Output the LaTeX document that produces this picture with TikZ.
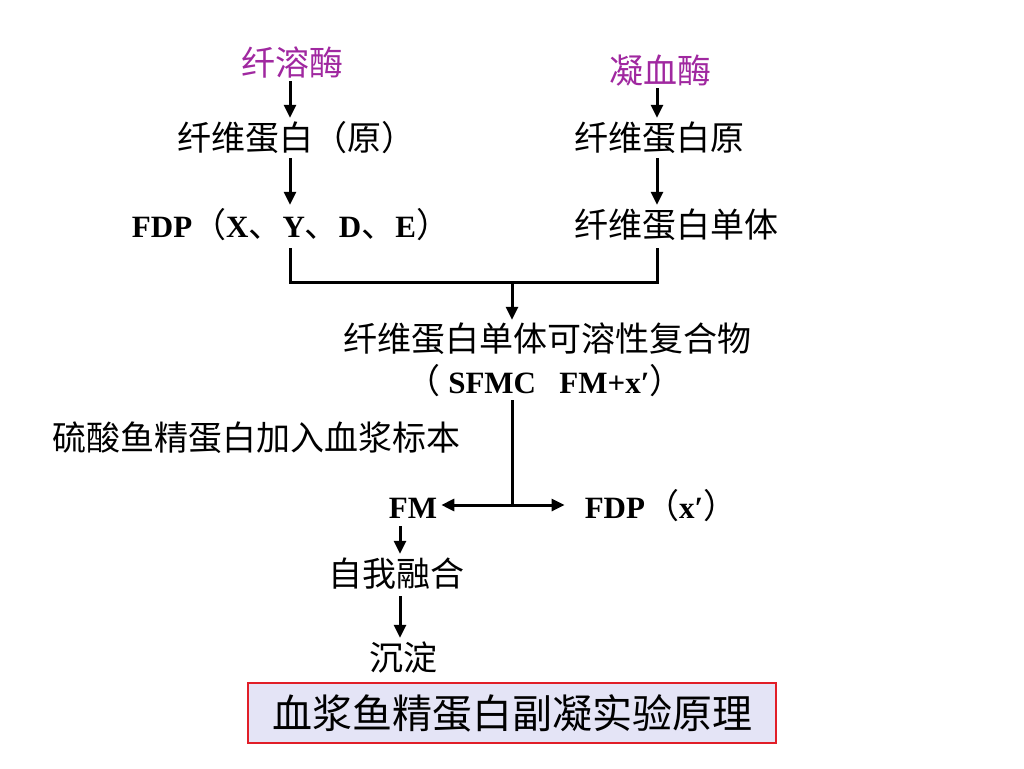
\documentclass[tikz,border=0pt]{standalone}
\usepackage{fontspec}
\setmainfont{Liberation Serif}
\newfontfamily\cjk{Noto Sans CJK SC}
\usetikzlibrary{arrows.meta}
\definecolor{enz}{RGB}{160,40,160}
\definecolor{boxfill}{RGB}{228,228,246}
\definecolor{boxline}{RGB}{225,30,40}
\newcommand\lat[1]{{\normalfont\fontsize{31}{35}\selectfont\bfseries #1}}
\tikzset{
  lbl/.style={inner sep=0pt, text height=30pt, text depth=4pt, font=\fontsize{34}{40}\selectfont\cjk},
  enzyme/.style={lbl, text=enz},
  arr/.style={line width=3pt, -{Triangle[length=13pt,width=12pt]}},
  ln/.style={line width=3pt},
  titlebox/.style={draw=boxline, line width=2pt, fill=boxfill, minimum width=528pt, minimum height=60pt, inner sep=0pt, font=\fontsize{40}{46}\selectfont\cjk}
}
\begin{document}
\begin{tikzpicture}[x=1pt,y=-1pt]
\useasboundingbox (0,0) rectangle (1024,768);
\fill[white] (0,0) rectangle (1024,768);
% columns
\coordinate (cl) at (290,0);
\coordinate (cr) at (657,0);
\coordinate (cm) at (512,0);
\coordinate (cf) at (400,0);
% nodes
\node[enzyme] (plasmin) at (292,62) {纤溶酶};
\node[enzyme] (thrombin) at (660,70) {凝血酶};
\node[lbl] (fib) at (296,137) {纤维蛋白（原）};
\node[lbl] (fibr) at (659,137) {纤维蛋白原};
\node[lbl] (fdp) at (291,224) {\lat{FDP}（\lat{X}、\lat{Y}、\lat{D}、\lat{E}）};
\node[lbl] (mono) at (676,224) {纤维蛋白单体};
\node[lbl] (sfmc) at (547,338) {纤维蛋白单体可溶性复合物};
\node[lbl] (sfmc2) at (545,380) {（\lat{ SFMC\ \ \ FM+x′}）};
\node[lbl] (prot) at (256,437) {硫酸鱼精蛋白加入血浆标本};
\node[lbl] (fm) at (413,505) {\lat{FM}};
\node[lbl] (fdpx) at (661,505) {\lat{FDP}（\lat{x′}）};
\node[lbl] (self) at (396,573) {自我融合};
\node[lbl] (prec) at (403,657) {沉淀};
\node[titlebox] (title) at (512,713) {血浆鱼精蛋白副凝实验原理};
% coordinates
\coordinate (jl) at (290,282);
\coordinate (jr) at (657,282);
\coordinate (jm) at (512,282);
\coordinate (split) at (512,505);
% connectors
\draw[arr] ([yshift=-2pt]plasmin.south -| cl) -- ([yshift=2pt]fib.north -| cl);
\draw[arr] ([yshift=-1pt]thrombin.south -| cr) -- ([yshift=2pt]fibr.north -| cr);
\draw[arr] ([yshift=-4pt]fib.south -| cl) -- ([yshift=2pt]fdp.north -| cl);
\draw[arr] ([yshift=-4pt]fibr.south -| cr) -- ([yshift=2pt]mono.north -| cr);
\draw[ln] ([yshift=-7pt]fdp.south -| cl) -- (jl) -- (jr) -- ([yshift=-7pt]mono.south -| cr);
\draw[arr] (jm) -- ([yshift=1pt]sfmc.north -| cm);
\draw[ln] ([yshift=-3pt]sfmc2.south -| cm) -- (split);
\draw[arr] (split) -- ([xshift=4pt]fm.east);
\draw[arr] (split) -- ([xshift=-20pt]fdpx.west);
\draw[arr] ([yshift=-4pt]fm.south -| cf) -- ([yshift=2pt]self.north -| cf);
\draw[arr] ([yshift=-6pt]self.south -| cf) -- ([yshift=2pt]prec.north -| cf);
\end{tikzpicture}
\end{document}
